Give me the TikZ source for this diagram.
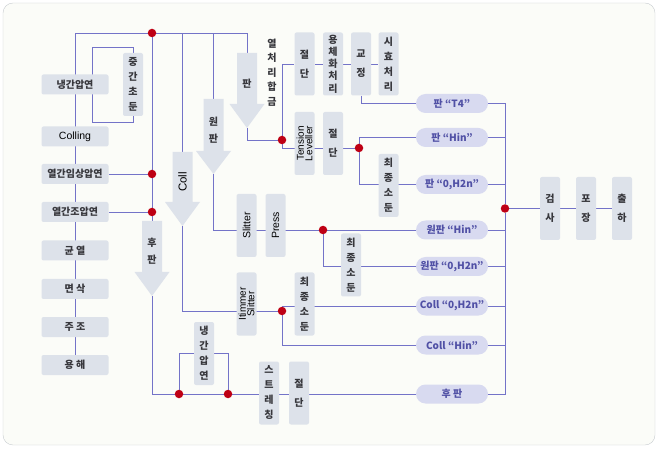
\documentclass[tikz,border=0pt]{standalone}
\usepackage{fontspec}
\setmainfont{Noto Sans CJK KR}
\newfontfamily\latinfont{Liberation Sans}
\usetikzlibrary{backgrounds,calc}
\definecolor{boxfill}{RGB}{221,226,234}
\definecolor{pillfill}{RGB}{216,218,240}
\definecolor{pilltext}{RGB}{80,80,165}
\definecolor{boxtext}{RGB}{55,55,60}
\definecolor{linkblue}{RGB}{115,115,200}
\definecolor{dotred}{RGB}{190,0,20}
\definecolor{framegray}{RGB}{200,204,208}
\definecolor{framefill}{RGB}{251,252,248}

% down arrow: name, x, top y, head y, tip y, label options, label
\newcommand{\flowarrow}[7]{%
  \fill[boxfill] (#2-10,#3) -- (#2+10,#3) -- (#2+10,#4) -- (#2+17.5,#4) -- (#2,#5) -- (#2-17.5,#4) -- (#2-10,#4) -- cycle;
  \coordinate (#1-top) at (#2,#3);
  \coordinate (#1-tip) at (#2,#5);
  \node[arrowtext,#6] (#1) at (#2,{(#3+#4)/2+5}) {#7};
}

\begin{document}
\begin{tikzpicture}[x=1pt,y=-1pt,
    box/.style={fill=boxfill, rounded corners=2pt, inner sep=0pt, text=boxtext, font=\fontsize{10}{15}\selectfont\bfseries},
    hbox/.style={box, minimum width=67pt, minimum height=20pt},
    vbox/.style={box, minimum width=20pt, minimum height=63pt, align=center},
    spaced/.style={font=\fontsize{10}{19}\selectfont\bfseries},
    latin/.style={text=black, font=\latinfont\fontsize{10.5}{10}\selectfont},
    rbox/.style={box, minimum width=63pt, minimum height=20pt, rotate=90, align=center, text=black, font=\latinfont\fontsize{10}{8.5}\selectfont},
    pill/.style={fill=pillfill, rounded corners=9.5pt, minimum width=72pt, minimum height=19pt, inner sep=0pt, text=pilltext, font=\fontsize{10}{10}\selectfont\bfseries},
    dot/.style={circle, fill=dotred, minimum size=8.5pt, inner sep=0pt},
    arrowtext/.style={inner sep=0pt, align=center, text=boxtext, font=\fontsize{10}{17}\selectfont\bfseries},
    link/.style={draw=linkblue, line width=0.9pt}]
  \useasboundingbox (0,0) rectangle (659,449);

  % left column
  \node[hbox] (cold1) at (75,84.5) {냉간압연};
  \node[hbox, latin] (colling) at (75,136.5) {Colling};
  \node[hbox] (hot2) at (75,174) {열간임상압연};
  \node[hbox] (hot1) at (75,212) {열간조압연};
  \node[hbox] (soak) at (75,250.5) {균 열};
  \node[hbox] (scalp) at (75,289) {면 삭};
  \node[hbox] (cast) at (75,327) {주 조};
  \node[hbox] (melt) at (75,365) {용 해};
  \node[vbox] (anneal) at (133,84.5) {중\\간\\초\\둔};
  \coordinate (tl) at (75,33);
  \coordinate (loopA) at (92,47);
  \coordinate (loopB) at (92,122);

  % arrows
  \flowarrow{hplate}{152}{221}{272}{296}{}{후\\판}
  \flowarrow{coll}{182.5}{152}{202}{226}{rotate=90, latin, font=\latinfont\fontsize{11.5}{10}\selectfont}{Coll}
  \flowarrow{wplate}{213.5}{99}{151}{174}{}{원\\판}
  \flowarrow{pan}{247}{53}{104}{128}{}{판}

  % heat treated alloy
  \node[arrowtext, font=\fontsize{10}{14.5}\selectfont\bfseries] (alloy) at (272,72.5) {열\\처\\리\\합\\금};
  \node[vbox, spaced] (cut1) at (304.5,64) {절\\단};
  \node[vbox, font=\fontsize{10}{12.2}\selectfont\bfseries] (solut) at (333,64) {용\\체\\화\\처\\리};
  \node[vbox, spaced] (straight) at (361,64) {교\\정};
  \node[vbox] (aging) at (388.5,64) {시\\효\\처\\리};
  \node[rbox] (tension) at (304.5,143.5) {Tension\\Leveller};
  \node[vbox, spaced] (cut2) at (333,143.5) {절\\단};
  \node[vbox] (anneal2) at (388.5,185.5) {최\\종\\소\\둔};

  % plate, coil
  \node[rbox, latin] (slitter) at (246.5,225.5) {Slitter};
  \node[rbox, latin] (press) at (275.5,225.5) {Press};
  \node[vbox] (anneal3) at (351,265) {최\\종\\소\\둔};
  \node[rbox] (trimmer) at (246.5,304) {Itimmer\\Slitter};
  \node[vbox] (anneal4) at (304.5,304) {최\\종\\소\\둔};
  \node[vbox] (cold2) at (204,353.5) {냉\\간\\압\\연};
  \node[vbox] (stretch) at (269,393) {스\\트\\레\\칭};
  \node[vbox, spaced] (cut3) at (299,393) {절\\단};

  % products
  \node[pill] (pT4) at (452,103.5) {판 “T4”};
  \node[pill] (pHin) at (452,137.5) {판 “Hin”};
  \node[pill] (pH2n) at (452,184.5) {판 “0,H2n”};
  \node[pill] (wHin) at (452,230) {원판 “Hin”};
  \node[pill] (wH2n) at (452,266.5) {원판 “0,H2n”};
  \node[pill] (cH2n) at (452,306) {Coll “0,H2n”};
  \node[pill] (cHin) at (452,345) {Coll “Hin”};
  \node[pill] (pHp) at (452,394) {후 판};
  \node[vbox, spaced] (inspect) at (550,208.5) {검\\사};
  \node[vbox, spaced] (pack) at (586,208.5) {포\\장};
  \node[vbox, spaced] (ship) at (622,208.5) {출\\하};

  % junctions
  \node[dot] (dtop) at (152,33) {};
  \node[dot] (dhot2) at (152,174) {};
  \node[dot] (dhot1) at (152,212) {};
  \node[dot] (dheat) at (282,140) {};
  \node[dot] (dcut) at (359,148) {};
  \node[dot] (dpress) at (323,230) {};
  \node[dot] (dcoll) at (282,311) {};
  \node[dot] (dl) at (179,394) {};
  \node[dot] (dr) at (228,394) {};
  \node[dot] (dfin) at (505,208.5) {};

  \begin{scope}[on background layer]
    \draw[framegray, fill=framefill, rounded corners=10pt] (3,3) rectangle (655,445);
    \draw[link] (melt) -- (tl) -| (pan-top);
    \draw[link] (coll-top) -- (coll-top |- tl);
    \draw[link] (wplate-top) -- (wplate-top |- tl);
    \draw[link] (dtop) -- (dhot2) -- (dhot1) -- (hplate-top);
    \draw[link] (hot2) -- (dhot2);
    \draw[link] (hot1) -- (dhot1);
    \draw[link] (anneal) |- (loopA) -- (loopB) -| (anneal);
    \draw[link] (pan-tip) |- (dheat);
    \draw[link] (dheat) |- (cut1);
    \draw[link] (cut1) -- (solut) -- (straight) -- (aging);
    \draw[link] (straight) |- (pT4);
    \draw[link] (dheat) |- (dcut);
    \draw[link] (dcut) |- (pHin);
    \draw[link] (dcut) |- (pH2n);
    \draw[link] (wplate-tip) |- (dpress) -- (wHin);
    \draw[link] (dpress) |- (wH2n);
    \draw[link] (coll-tip) |- (dcoll);
    \draw[link] (dcoll) |- (cH2n);
    \draw[link] (dcoll) |- (cHin);
    \draw[link] (hplate-tip) |- (dl) -- (dr) -- (pHp);
    \draw[link] (dl) |- (cold2) -| (dr);
    \draw[link] (pT4) -| (dfin) |- (pHp);
    \draw[link] (pHin) -- (pHin -| dfin);
    \draw[link] (pH2n) -- (pH2n -| dfin);
    \draw[link] (wHin) -- (wHin -| dfin);
    \draw[link] (wH2n) -- (wH2n -| dfin);
    \draw[link] (cH2n) -- (cH2n -| dfin);
    \draw[link] (cHin) -- (cHin -| dfin);
    \draw[link] (dfin) -- (inspect) -- (pack) -- (ship);
  \end{scope}
\end{tikzpicture}
\end{document}
